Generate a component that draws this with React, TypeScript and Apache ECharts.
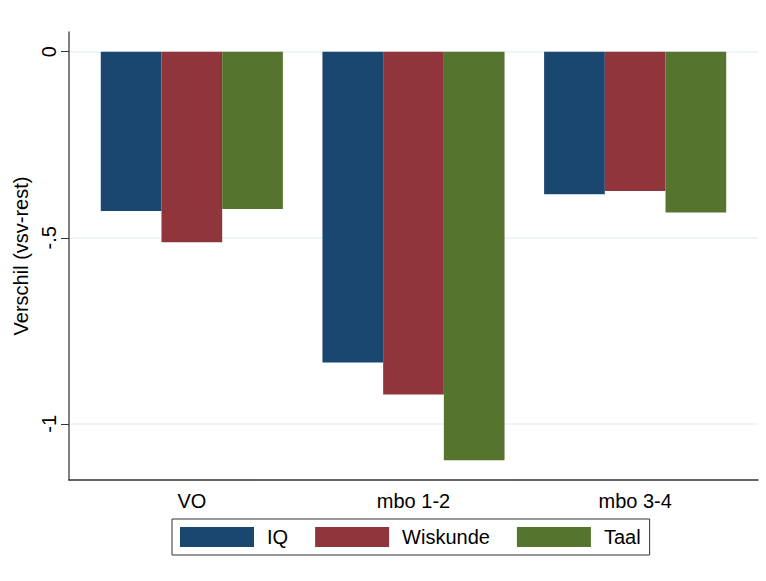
import React, { useEffect, useRef } from "react";
import * as echarts from "echarts";

const categories = ["VO", "mbo 1-2", "mbo 3-4"];
const seriesNames = ["IQ", "Wiskunde", "Taal"];
const iqValues = [-0.428, -0.835, -0.383];
const wiskundeValues = [-0.512, -0.921, -0.374];
const taalValues = [-0.423, -1.098, -0.432];
const yTicks = [-1, -0.5, 0];
const yTickLabels = ["-1", "-.5", "0"];
const yName = "Verschil (vsv-rest)";
const colors = ["#1a476f", "#90353b", "#55752f"];

const Y_MIN = -1.151;
const Y_MAX = 0.053;
const FONT = '"Liberation Sans", Arial, Helvetica, sans-serif';
const FS = 20;

export default function App() {
  const ref = useRef<HTMLDivElement>(null);
  useEffect(() => {
    document.body.style.margin = "0";
    const chart = echarts.init(ref.current!, undefined, { renderer: "svg" });
    const values = [iqValues, wiskundeValues, taalValues];
    chart.setOption({
      animation: false,
      backgroundColor: "#ffffff",
      textStyle: { fontFamily: FONT },
      grid: [
        { left: 69, top: 32, width: 689, height: 448 },
        { left: 81, top: 32, width: 665, height: 448 },
      ],
      xAxis: [
        {
          gridIndex: 0,
          type: "category",
          data: [""],
          axisLine: { show: true, onZero: false, lineStyle: { color: "#333", width: 1.5 } },
          axisTick: { show: false },
          axisLabel: { show: false },
          splitLine: { show: false },
        },
        {
          gridIndex: 1,
          type: "category",
          data: categories,
          axisLine: { show: false, onZero: false },
          axisTick: { show: false },
          axisLabel: {
            show: true,
            margin: 11,
            fontSize: FS,
            color: "#000",
            fontFamily: FONT,
          },
          splitLine: { show: false },
        },
      ],
      yAxis: [
        {
          gridIndex: 0,
          type: "value",
          min: Y_MIN,
          max: Y_MAX,
          name: yName,
          nameLocation: "middle",
          nameRotate: 90,
          nameGap: 32,
          nameTextStyle: { fontSize: FS, color: "#000", fontFamily: FONT },
          axisLine: { show: true, lineStyle: { color: "#555", width: 1.5 } },
          axisTick: {
            show: true,
            length: 8,
            inside: false,
            customValues: yTicks,
            lineStyle: { color: "#333", width: 1 },
          },
          axisLabel: {
            show: true,
            rotate: 90,
            margin: 10,
            customValues: yTicks,
            fontSize: FS,
            color: "#000",
            fontFamily: FONT,
            formatter: (v: number) => {
              const i = yTicks.findIndex((t) => Math.abs(t - v) < 1e-9);
              return i >= 0 ? yTickLabels[i] : "";
            },
          },
          splitLine: { show: true, lineStyle: { color: "#eaf2f3", width: 1.5 } },
        },
        {
          gridIndex: 1,
          type: "value",
          min: Y_MIN,
          max: Y_MAX,
          show: false,
          splitLine: { show: false },
        },
      ],
      legend: {
        show: true,
        data: seriesNames,
        left: 172,
        top: 519,
        orient: "horizontal",
        icon: "rect",
        itemWidth: 74,
        itemHeight: 20,
        itemGap: 27,
        padding: [8, 9, 8, 8],
        borderColor: "#333",
        borderWidth: 1,
        textStyle: {
          fontSize: FS,
          color: "#000",
          fontFamily: FONT,
          padding: [0, 0, 0, 8],
        },
      },
      series: seriesNames.map((name, i) => ({
        name,
        type: "bar",
        xAxisIndex: 1,
        yAxisIndex: 1,
        data: values[i],
        barWidth: 60.7,
        barGap: "0%",
        itemStyle: { color: colors[i] },
      })),
    });
    return () => chart.dispose();
  }, []);
  return <div ref={ref} style={{ width: 766, height: 581 }} />;
}
